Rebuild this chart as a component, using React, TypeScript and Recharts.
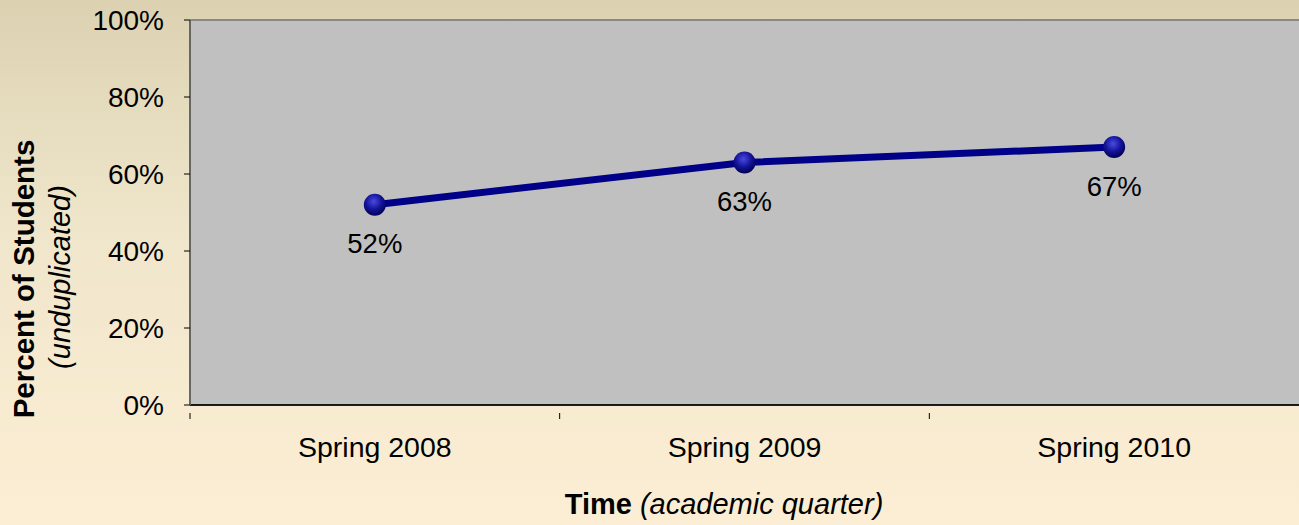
import { LineChart, Line, XAxis, YAxis, CartesianGrid, ReferenceLine, LabelList } from 'recharts';

// academic quarters and share of students (unduplicated)
const quarters = ['Spring 2008', 'Spring 2009', 'Spring 2010'];
const percents = [52, 63, 67];
const yTicks = [0, 20, 40, 60, 80, 100];

const data = quarters.map((q, i) => ({ quarter: q, pct: percents[i] }));

const FONT = '"Liberation Sans", Arial, sans-serif';
const W = 1299;
const H = 525;
const LEFT = 190;
const BAND = (W - LEFT) / quarters.length;

const QuarterTick = (props: any) => {
  const { x, y, payload } = props;
  return (
    <g>
      <line x1={x - BAND / 2} y1={y} x2={x - BAND / 2} y2={y + 6} stroke="#000" strokeWidth={1} />
      <text x={x} y={447} textAnchor="middle" dominantBaseline="central" fontSize={28.5} fill="#000" fontFamily={FONT}>
        {payload.value}
      </text>
    </g>
  );
};

const PctLabel = (props: any) => {
  const { x, y, value } = props;
  return (
    <text x={x} y={y + 39} textAnchor="middle" dominantBaseline="central" fontSize={27.5} fill="#000" fontFamily={FONT}>
      {value}%
    </text>
  );
};

export default function App() {
  return (
    <div
      style={{
        position: 'absolute',
        left: 0,
        top: 0,
        width: W,
        height: H,
        background: 'linear-gradient(to bottom, #DCD2B2 0%, #F0E6CB 45%, #FCEED4 100%)',
        fontFamily: FONT,
      }}
    >
      <svg width={W} height={H} style={{ position: 'absolute', left: 0, top: 0 }}>
        <text transform="translate(23,279) rotate(-90)" textAnchor="middle" dominantBaseline="central" fontSize={29.5} fontWeight="bold" fontFamily={FONT} fill="#000">
          Percent of Students
        </text>
        <text transform="translate(60,277) rotate(-90)" textAnchor="middle" dominantBaseline="central" fontSize={29} fontStyle="italic" fontFamily={FONT} fill="#000">
          (unduplicated)
        </text>
        <text x={724} y={504} textAnchor="middle" dominantBaseline="central" fontSize={29} fontFamily={FONT} fill="#000">
          <tspan fontWeight="bold">Time</tspan>
          <tspan fontStyle="italic">  (academic quarter)</tspan>
        </text>
      </svg>
      <div style={{ position: 'absolute', left: 0, top: 0 }}>
        <LineChart width={W} height={H} data={data} margin={{ top: 20, right: 0, bottom: 0, left: 0 }}>
          <defs>
            <radialGradient id="dotGrad" cx="45%" cy="35%" r="65%">
              <stop offset="0%" stopColor="#4a4ae0" />
              <stop offset="55%" stopColor="#14149a" />
              <stop offset="100%" stopColor="#000055" />
            </radialGradient>
          </defs>
          <CartesianGrid vertical={false} stroke="#000" strokeOpacity={1} fill="#C0C0C0" fillOpacity={1} />
          <XAxis
            dataKey="quarter"
            height={120}
            padding={{ left: BAND / 2, right: BAND / 2 }}
            axisLine={{ stroke: '#000', strokeWidth: 1.5 }}
            tickLine={false}
            tick={<QuarterTick />}
            interval={0}
          />
          <YAxis
            yAxisId="l"
            width={LEFT}
            domain={[0, 100]}
            ticks={yTicks}
            tickFormatter={(v: number) => `${v}%`}
            tick={{ fontSize: 28, fill: '#000', fontFamily: FONT }}
            tickSize={6}
            tickMargin={20}
            tickLine={{ stroke: '#000' }}
            axisLine={{ stroke: '#666', strokeWidth: 2 }}
          />
          <YAxis yAxisId="r" orientation="right" width={0} domain={[0, 100]} tick={false} tickLine={false} axisLine={{ stroke: '#888', strokeWidth: 2 }} />
          <ReferenceLine yAxisId="l" y={100} stroke="#888" strokeWidth={2} />
          <Line
            yAxisId="l"
            dataKey="pct"
            stroke="#000088"
            strokeWidth={7}
            dot={{ r: 11, fill: 'url(#dotGrad)', stroke: 'none' }}
            activeDot={false}
            isAnimationActive={false}
          >
            <LabelList dataKey="pct" content={<PctLabel />} />
          </Line>
        </LineChart>
      </div>
    </div>
  );
}
